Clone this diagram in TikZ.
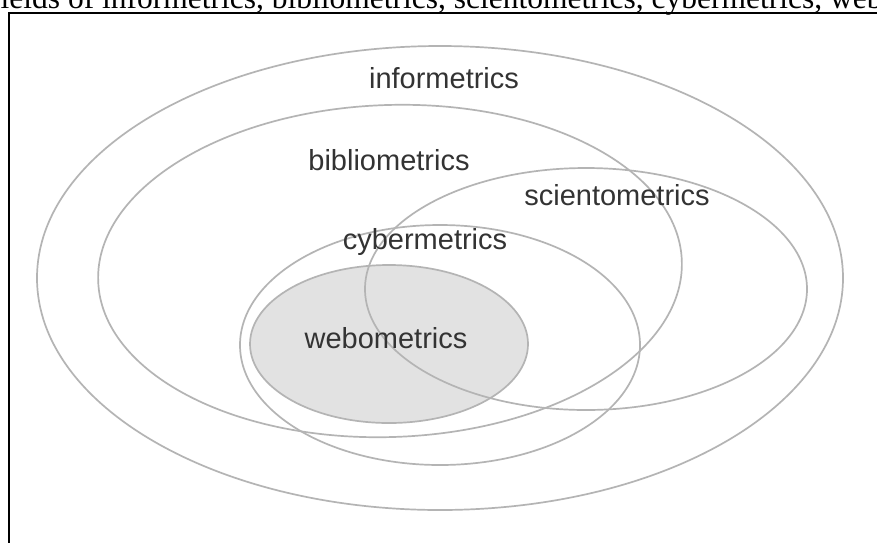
\documentclass[tikz,border=0pt]{standalone}
\usepackage{fontspec}
\setmainfont{Liberation Serif}
\setsansfont{Liberation Sans}
\usetikzlibrary{shapes.geometric}
\definecolor{ringgray}{HTML}{B4B4B4}
\definecolor{labelgray}{HTML}{333333}
\definecolor{webfill}{HTML}{E2E2E2}
\begin{document}
\begin{tikzpicture}[x=1pt,y=-1pt,
  ring/.style={draw=ringgray, line width=1.7pt, ellipse, inner sep=0pt},
  lbl/.style={font=\sffamily\fontsize{29}{29}\selectfont, text=labelgray, inner sep=0pt}]
\useasboundingbox (0,0) rectangle (877,542);
\clip (0,0) rectangle (877,542);
\fill[white] (0,0) rectangle (877,542);
\node[anchor=base west, inner sep=0pt, font=\fontsize{31.5}{31.5}\selectfont] (caption) at (-10,8) {fields of informetrics, bibliometrics, scientometrics, cybermetrics, webometrics};
\coordinate (frameBL) at (9,545);
\coordinate (frameTL) at (9,13);
\coordinate (frameTR) at (880,13);
\draw[line width=2.2pt] (frameBL) -- (frameTL) -- (frameTR);
% filled webometrics area
\node[ellipse, fill=webfill, inner sep=0pt, minimum width=278pt, minimum height=158pt] (webfillnode) at (389,344) {};
% outlines
\node[ring, minimum width=806pt, minimum height=464pt] (informetricsE) at (440,278) {};
\node[ring, minimum width=584pt, minimum height=332pt, rotate=2] (bibliometricsE) at (390,271) {};
\node[ring, minimum width=442pt, minimum height=242pt] (scientometricsE) at (586,289) {};
\node[ring, minimum width=400pt, minimum height=240pt] (cybermetricsE) at (440,345) {};
\node[ring, minimum width=278pt, minimum height=158pt] (webometricsE) at (389,344) {};
% labels
\node[lbl] (informetrics) at (444,78) {informetrics};
\node[lbl] (bibliometrics) at (389,160) {bibliometrics};
\node[lbl] (scientometrics) at (617,195) {scientometrics};
\node[lbl] (cybermetrics) at (425,242) {cybermetrics};
\node[lbl] (webometrics) at (386,338) {webometrics};
\end{tikzpicture}
\end{document}
